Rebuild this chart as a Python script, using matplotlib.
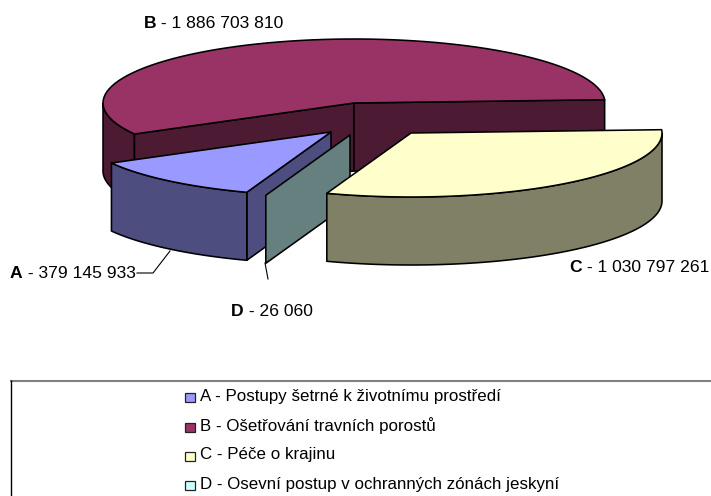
import numpy as np
import matplotlib
matplotlib.use("Agg")
import matplotlib.pyplot as plt
from matplotlib.patches import Polygon, Rectangle

plt.rcParams['font.family'] = ['Liberation Sans', 'DejaVu Sans']

# hodnoty z grafu
letters = ['A', 'B', 'C', 'D']
values = [379145933, 1886703810, 1030797261, 26060]
value_labels = ['379 145 933', '1 886 703 810', '1 030 797 261', '26 060']
legend_names = ['A - Postupy šetrné k životnímu prostředí',
                'B - Ošetřování travních porostů',
                'C - Péče o krajinu',
                'D - Osevní postup v ochranných zónách jeskyní']
top_colors = ['#9999ff', '#993366', '#ffffcc', '#ccffff']
side_colors = ['#4d4d80', '#4d1a33', '#808066', '#668080']

# geometrie kolace v pixelech
cx, cy = 354, 103
rx, ry = 251, 64
depth = 68
start_angle = 250.4  # A zacina tady a jde se po smeru hodin
offsets = {'A': (-23, 29), 'B': (0, 0), 'C': (57, 30), 'D': (-4, 32)}


def arc(a1, a2, ox, oy, dz=0):
    t = np.radians(np.linspace(a1, a2, 80))
    return np.column_stack([cx + ox + rx * np.cos(t), cy + oy - ry * np.sin(t) + dz])


def face(ax, pts, color, z):
    ax.add_patch(Polygon(pts, closed=True, facecolor=color, edgecolor='black', linewidth=1.15,
                         joinstyle='round', zorder=z))


def cut_face(ax, ang, ox, oy, color, z):
    e = arc(ang, ang, ox, oy)[0]
    a = (cx + ox, cy + oy)
    face(ax, [a, e, (e[0], e[1] + depth), (a[0], a[1] + depth)], color, z)


def wall(ax, lo, hi, ox, oy, color, z):
    # vnejsi stena, jen viditelna cast (spodni pulka elipsy)
    up = arc(lo, hi, ox, oy)
    down = arc(hi, lo, ox, oy, depth)
    face(ax, np.vstack([up, down]), color, z)


fig = plt.figure(figsize=(7.11, 4.96), dpi=100)
ax = fig.add_axes([0, 0, 1, 1])
ax.set_xlim(0, 711)
ax.set_ylim(496, 0)
ax.axis('off')

total = sum(values)
angles = {}
a = start_angle
for name, v in zip(letters, values):
    b = a - v / total * 360
    angles[name] = (a, b)
    a = b

order = {'B': 2, 'A': 3, 'D': 4, 'C': 5}
for i, name in enumerate(letters):
    a1, a2 = angles[name]
    ox, oy = offsets[name]
    z = order[name]
    if name == 'B':
        # B ma viditelne obe rezne steny a kus leve steny
        wall(ax, 180, a1, ox, oy, side_colors[i], z)
        cut_face(ax, a1, ox, oy, side_colors[i], z)
        cut_face(ax, a2, ox, oy, side_colors[i], z)
    elif name == 'A':
        cut_face(ax, a1, ox, oy, side_colors[i], z)
        wall(ax, a2, a1, ox, oy, side_colors[i], z)
    elif name == 'C':
        wall(ax, a2 + 360, 360, ox, oy, side_colors[i], z)
    elif name == 'D':
        cut_face(ax, a1, ox, oy, side_colors[i], z)
    if name != 'D':
        top = np.vstack([[(cx + ox, cy + oy)], arc(a1, a2, ox, oy)])
        face(ax, top, top_colors[i], z + 0.5)

# vynasecky
ax.plot([137, 153, 170], [273, 273, 251], color='black', lw=0.8, zorder=1)
ax.plot([265, 268], [263, 279], color='black', lw=0.8, zorder=1)

# popisky
label_pos = {'A': (10, 273), 'B': (144, 23), 'C': (569, 268), 'D': (231, 311)}
lab_size = 12.6
for name, txt in zip(letters, value_labels):
    x, y = label_pos[name]
    t = ax.text(x, y, name, fontsize=lab_size, fontweight='bold', va='center', ha='left', zorder=9)
    bb = t.get_window_extent(fig.canvas.get_renderer())
    ax.text(x + bb.width, y, ' - ' + txt, fontsize=lab_size, va='center', ha='left', zorder=9)

# legenda: bez praveho a spodniho okraje, ty jsou mimo obrazek
ax.plot([10, 711], [381, 381], color='#808080', lw=1.5, solid_capstyle='butt', zorder=1)
ax.plot([10.5, 10.5], [380, 496], color='black', lw=1.0, solid_capstyle='butt', zorder=1)
leg_y = [397, 427, 456, 485]
for name, col, y in zip(legend_names, top_colors, leg_y):
    ax.add_patch(Rectangle((185, y - 4.5), 10, 9, facecolor=col, edgecolor='#222222', linewidth=0.9,
                           zorder=2))
    ax.text(200, y - 1, name, fontsize=12.2, va='center', ha='left', zorder=2)

fig.savefig('out.png', dpi=100)
